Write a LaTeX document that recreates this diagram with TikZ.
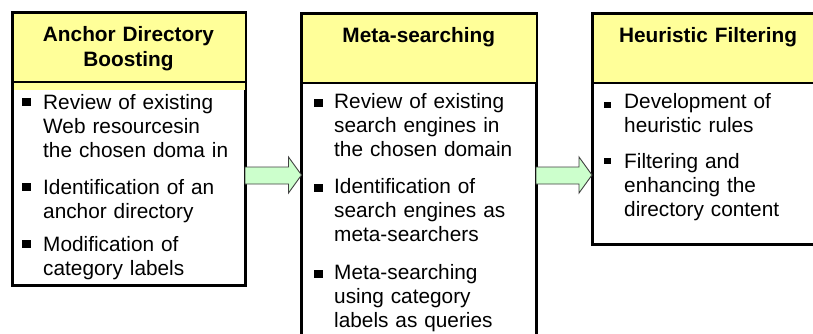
\documentclass[tikz,border=0pt]{standalone}
\usepackage{fontspec}
\setmainfont{Liberation Sans}
\usetikzlibrary{calc}

\definecolor{headyellow}{RGB}{255,255,153}
\definecolor{flowgreen}{RGB}{204,255,204}
\definecolor{flowline}{RGB}{64,64,64}

\tikzset{
  stagebox/.style={draw, line width=3pt, fill=white, outer sep=0pt, inner sep=0pt},
  headfill/.style={fill=headyellow},
  title/.style={font=\bfseries\fontsize{20.8}{25}\selectfont, text width=226pt,
    align=center, anchor=base, inner sep=0pt},
  item/.style={font=\fontsize{20.8}{24.2}\selectfont, text width=200pt,
    align=left, anchor=base west, inner sep=0pt},
  flow/.style={draw=flowline, fill=flowgreen, line width=0.9pt, line join=miter}
}

\begin{document}
\begin{tikzpicture}[x=1pt, y=-1pt]
  \useasboundingbox (0,0) rectangle (813,333);
  \clip (0,0) rectangle (813,333);

  % the three stages
  \node[stagebox, minimum width=233pt, minimum height=273pt] (adb) at (128.5,148.5) {};
  \node[stagebox, minimum width=234.5pt, minimum height=350pt] (ms) at (418.75,188) {};
  \node[stagebox, minimum width=232pt, minimum height=231pt] (hf) at (708,128.5) {};

  % headers
  \fill[headfill] ([shift={(1.5,1.5)}]adb.north west) rectangle (adb.east |- 0,90);
  \fill[headfill] ([shift={(1.5,1.5)}]ms.north west) rectangle (ms.east |- 0,83);
  \fill[headfill] ([shift={(1.5,1.5)}]hf.north west) rectangle (hf.east |- 0,83);
  \draw[line width=1.2pt] (adb.west |- 0,82) -- (adb.east |- 0,82);
  \draw[line width=1.2pt] (ms.west |- 0,83) -- (ms.east |- 0,83);
  \draw[line width=1.2pt] (hf.west |- 0,83) -- (hf.east |- 0,83);

  \node[title] (adb-title) at (adb.north |- 0,41) {Anchor Directory\\Boosting};
  \node[title] (ms-title) at (ms.north |- 0,42) {Meta-searching};
  \node[title] (hf-title) at (hf.north |- 0,42) {Heuristic Filtering};

  % bullet items
  \foreach \yy/\txt [count=\i] in {109/{Review of existing\\Web resourcesin\\the chosen doma in},
      194/{Identification of an\\anchor directory}, 251/{Modification of\\category labels}}
  {
    \node[item] (adb-\i) at (43,\yy) {\txt};
    \fill ([shift={(-21,-3)}]adb-\i.base west) rectangle +(8.5,-8.5);
  }
  \foreach \yy/\txt [count=\i] in {108/{Review of existing\\search engines in\\the chosen domain},
      193/{Identification of\\search engines as\\meta-searchers},
      279/{Meta-searching\\using category\\labels as queries}}
  {
    \node[item] (ms-\i) at (334,\yy) {\txt};
    \fill ([shift={(-20,-1)}]ms-\i.base west) rectangle +(8.5,-8.5);
  }
  \foreach \yy/\txt/\up [count=\i] in {108/{Development of\\heuristic rules}/0,
      168/{Filtering and\\enhancing the\\directory content}/4}
  {
    \node[item] (hf-\i) at (624,\yy) {\txt};
    \fill ([shift={(-20,-\up)}]hf-\i.base west) rectangle +(7,-6.5);
  }

  % block arrows between the stages
  \coordinate (tip1) at (ms.west |- 0,175);
  \coordinate (tip2) at (hf.west |- 0,175);
  \draw[flow] (adb.east |- 0,167) -- ([shift={(-13,-8)}]tip1) -- ([shift={(-13,-18)}]tip1)
    -- (tip1) -- ([shift={(-13,18)}]tip1) -- ([shift={(-13,9)}]tip1)
    -- (adb.east |- 0,184) -- cycle;
  \draw[flow] (ms.east |- 0,167) -- ([shift={(-13,-8)}]tip2) -- ([shift={(-13,-18)}]tip2)
    -- (tip2) -- ([shift={(-13,18)}]tip2) -- ([shift={(-13,9)}]tip2)
    -- (ms.east |- 0,184) -- cycle;
\end{tikzpicture}
\end{document}
